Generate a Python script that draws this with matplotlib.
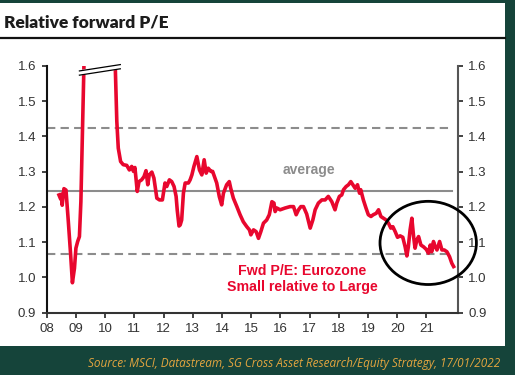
import numpy as np
import matplotlib
matplotlib.use("Agg")
import matplotlib.pyplot as plt
from matplotlib.patches import Ellipse, Rectangle

# data (decimal years, relative fwd P/E)
dates = [2008.42, 2008.48, 2008.50, 2008.53, 2008.59, 2008.66, 2008.74, 2008.82, 2008.88, 2008.95,
         2009.00, 2009.06, 2009.12, 2009.17, 2009.23, 2009.28, 2009.80, 2010.34, 2010.40, 2010.45,
         2010.53, 2010.62, 2010.74, 2010.83, 2010.91, 2010.97, 2011.02, 2011.10, 2011.16, 2011.25,
         2011.33, 2011.40, 2011.46, 2011.51, 2011.60, 2011.67, 2011.77, 2011.86, 2011.96, 2012.05,
         2012.11, 2012.20, 2012.28, 2012.36, 2012.43, 2012.47, 2012.53, 2012.57, 2012.62, 2012.68,
         2012.74, 2012.85, 2012.91, 2012.97, 2013.04, 2013.14, 2013.23, 2013.31, 2013.39, 2013.46,
         2013.53, 2013.62, 2013.68, 2013.76, 2013.82, 2013.91, 2013.99, 2014.05, 2014.16, 2014.25,
         2014.30, 2014.39, 2014.51, 2014.62, 2014.73, 2014.85, 2014.94, 2014.99, 2015.08, 2015.17,
         2015.25, 2015.33, 2015.42, 2015.53, 2015.62, 2015.71, 2015.78, 2015.82, 2015.88, 2015.99,
         2016.16, 2016.33, 2016.45, 2016.54, 2016.62, 2016.70, 2016.79, 2016.90, 2017.02, 2017.11,
         2017.19, 2017.30, 2017.42, 2017.53, 2017.64, 2017.76, 2017.87, 2017.93, 2018.02, 2018.10,
         2018.16, 2018.25, 2018.33, 2018.41, 2018.48, 2018.56, 2018.64, 2018.71, 2018.75, 2018.84,
         2018.93, 2019.01, 2019.10, 2019.18, 2019.28, 2019.36, 2019.44, 2019.53, 2019.62, 2019.70,
         2019.78, 2019.85, 2019.93, 2020.01, 2020.10, 2020.19, 2020.27, 2020.33, 2020.38, 2020.44,
         2020.50, 2020.56, 2020.61, 2020.67, 2020.73, 2020.81, 2020.90, 2020.99, 2021.07, 2021.13,
         2021.18, 2021.24, 2021.30, 2021.36, 2021.45, 2021.53, 2021.61, 2021.70, 2021.79, 2021.87,
         2021.93]
values = [1.234, 1.222, 1.236, 1.205, 1.252, 1.248, 1.159, 1.064, 0.985, 1.026,
          1.083, 1.102, 1.116, 1.215, 1.443, 1.62, np.nan, 1.62, 1.443, 1.367,
          1.329, 1.320, 1.318, 1.305, 1.315, 1.301, 1.312, 1.244, 1.272, 1.277,
          1.286, 1.303, 1.263, 1.291, 1.299, 1.282, 1.225, 1.220, 1.220, 1.268,
          1.258, 1.277, 1.272, 1.258, 1.230, 1.190, 1.146, 1.149, 1.163, 1.239,
          1.268, 1.268, 1.277, 1.291, 1.315, 1.343, 1.305, 1.291, 1.334, 1.296,
          1.310, 1.301, 1.301, 1.282, 1.268, 1.229, 1.206, 1.239, 1.263, 1.272,
          1.253, 1.225, 1.201, 1.178, 1.158, 1.144, 1.135, 1.121, 1.135, 1.130,
          1.111, 1.130, 1.154, 1.163, 1.178, 1.215, 1.211, 1.187, 1.197, 1.192,
          1.197, 1.201, 1.201, 1.178, 1.192, 1.201, 1.201, 1.180, 1.140, 1.163,
          1.192, 1.211, 1.220, 1.220, 1.230, 1.215, 1.192, 1.211, 1.230, 1.234,
          1.249, 1.258, 1.263, 1.272, 1.263, 1.253, 1.263, 1.239, 1.249, 1.220,
          1.197, 1.178, 1.173, 1.178, 1.182, 1.192, 1.173, 1.168, 1.163, 1.154,
          1.140, 1.144, 1.130, 1.114, 1.118, 1.114, 1.087, 1.061, 1.087, 1.135,
          1.168, 1.116, 1.083, 1.106, 1.116, 1.092, 1.087, 1.080, 1.069, 1.092,
          1.073, 1.102, 1.087, 1.078, 1.102, 1.078, 1.078, 1.073, 1.059, 1.040,
          1.031]

average = 1.245
upper_band = 1.424
lower_band = 1.067

year_ticks = list(range(2008, 2022))
year_labels = ["%02d" % (y - 2000) for y in year_ticks]
y_ticks = [0.9, 1.0, 1.1, 1.2, 1.3, 1.4, 1.5, 1.6]

GREEN = "#15443a"
RED = "#e8072e"
GREY = "#8c8c8c"

plt.rcParams["font.family"] = ["Liberation Sans", "DejaVu Sans"]

fig = plt.figure(figsize=(5.15, 3.75), dpi=100)
fig.patch.set_facecolor(GREEN)
# white panel behind everything
fig.patches.append(Rectangle((0, 29 / 375), 505 / 515, 343 / 375, transform=fig.transFigure,
                             facecolor="white", edgecolor="none", zorder=-10))

fig.text(4 / 515, 1 - 22 / 375, "Relative forward P/E", fontsize=12.5, fontweight="heavy",
         family=["Lato", "DejaVu Sans"], color="#1c1c1c", va="center", ha="left")
fig.add_artist(plt.Line2D([0, 505 / 515], [1 - 38 / 375] * 2, transform=fig.transFigure,
                          color="#111111", lw=1.6))

ax = fig.add_axes([46.7 / 515, 62.3 / 375, (458 - 46.7) / 515, (312.7 - 66) / 375])
ax.set_facecolor("none")

ax.axhline(average, xmax=0.985, color=GREY, lw=1.5, zorder=1)
ax.axhline(upper_band, xmax=0.985, color=GREY, lw=1.5, ls=(0, (4, 2.5)), zorder=1)
ax.axhline(lower_band, xmax=0.985, color=GREY, lw=1.5, ls=(0, (4, 2.5)), zorder=1)

ax.plot(dates, values, color=RED, lw=2.6, solid_joinstyle="round", zorder=3)

# axis break marks on the off-scale spike
for off in (0.0, 0.007):
    ax.plot([2009.12, 2010.52], [1.577 + off, 1.595 + off], color="white", lw=2.2,
            clip_on=False, zorder=4)
for off in (0.0, 0.012):
    ax.plot([2009.12, 2010.52], [1.574 + off, 1.592 + off], color="black", lw=0.9,
            clip_on=False, zorder=5)

ax.add_patch(Ellipse((2021.06, 1.098), 3.3, 0.236, fill=False, edgecolor="black", lw=2.0,
                     clip_on=False, zorder=6))

ax.text(2016.98, 1.305, "average", color=GREY, fontsize=10, fontweight="bold",
        ha="center", va="center")
ax.text(2016.74, 0.996, "Fwd P/E: Eurozone\nSmall relative to Large", color=RED,
        fontsize=10.2, fontweight="bold", ha="center", va="center", linespacing=1.2)

ax.set_xlim(2008, 2022.08)
ax.set_ylim(0.9, 1.6)
ax.set_xticks(year_ticks)
ax.set_xticklabels(year_labels)
ax.set_yticks(y_ticks)
ax.set_yticklabels(["%.1f" % t for t in y_ticks])
ax.tick_params(axis="both", direction="out", length=3.5, width=1.2, labelsize=9.5,
               colors="#222222", labelcolor="#333333", pad=4)
ax.tick_params(axis="y", right=True, labelright=True)

ax.spines["top"].set_visible(False)
ax.spines["left"].set_color("#111111")
ax.spines["bottom"].set_color("#333333")
ax.spines["right"].set_color("#555555")
for s in ("left", "bottom", "right"):
    ax.spines[s].set_linewidth(1.5)

fig.text(500 / 515, 12 / 375, "Source: MSCI, Datastream, SG Cross Asset Research/Equity Strategy, 17/01/2022",
         fontsize=8.5, style="italic", color="#e3a53f", ha="right", va="center",
         family=["Open Sans", "DejaVu Sans"])

fig.savefig("out.png", dpi=100, facecolor=fig.get_facecolor())
